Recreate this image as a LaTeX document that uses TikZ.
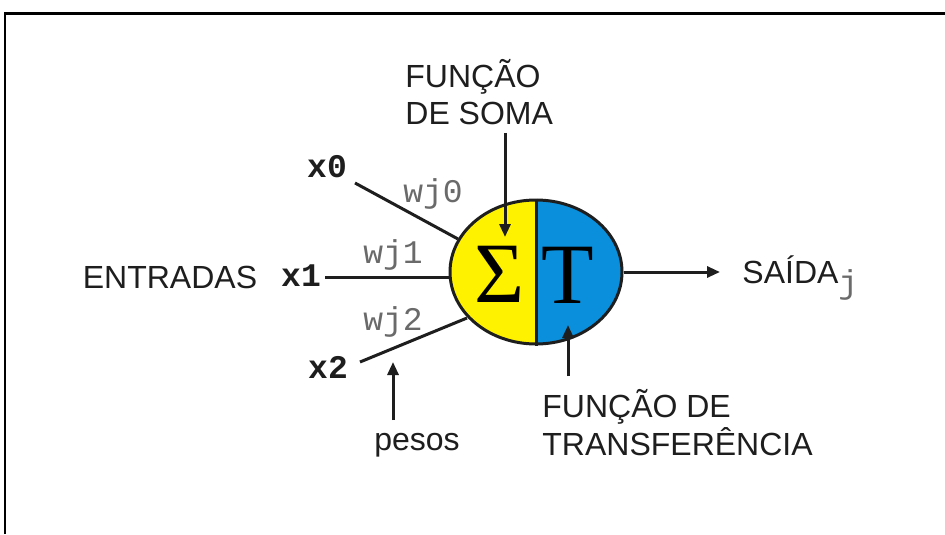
\documentclass[tikz,border=0pt]{standalone}
\usepackage{fontspec}
\setmainfont{Liberation Sans}
\newfontfamily\monof{Liberation Mono}
\newfontfamily\seriff{Liberation Serif}
\usetikzlibrary{arrows.meta,shapes.geometric}
\definecolor{yel}{HTML}{FFF200}
\definecolor{blu}{HTML}{0A8FDC}
\definecolor{txt}{HTML}{1E1E1E}
\definecolor{wgray}{HTML}{6A6A6A}
\begin{document}
\begin{tikzpicture}[x=0.5pt,y=-0.5pt,
  lbl/.style={inner sep=0pt,text=txt,font=\fontsize{16}{18.5}\selectfont},
  xin/.style={inner sep=0pt,text=txt,font=\monof\bfseries\fontsize{16.5}{18}\selectfont,anchor=base},
  wlbl/.style={inner sep=0pt,text=wgray,font=\monof\fontsize{16.5}{18}\selectfont,anchor=base},
  wire/.style={line width=1.5pt,draw=txt},
  arr/.style={line width=1.5pt,draw=txt,-{Triangle[length=6.5pt,width=5.5pt]}},
  big/.style={inner sep=0pt,text=black,font=\seriff\fontsize{43}{45}\selectfont}]
\useasboundingbox (0,0) rectangle (945,534);
\fill[white] (0,0) rectangle (945,534);
% frame
\draw[line width=1.4pt,black] (5,534) -- (5,13.5) -- (945,13.5);
% neuron halves
\begin{scope}
  \clip (536,272) ellipse [x radius=86, y radius=72];
  \fill[yel] (440,190) rectangle (536,350);
  \fill[blu] (536,190) rectangle (630,350);
\end{scope}
\node[ellipse,draw=txt,line width=1.5pt,minimum width=86pt,minimum height=72pt,inner sep=0pt] (neuron) at (536,272) {};
\draw[wire] (neuron.north) -- (neuron.south);
\node[big] (sigma) at (500,274.5) {Σ};
\node[big] (tee) at (568,275) {T};
% inputs
\node[xin] (x0) at (327,177) {x0};
\node[xin] (x1) at (301,286) {x1};
\node[xin] (x2) at (328,378) {x2};
\node[lbl,anchor=base] (entradas) at (170,288) {ENTRADAS};
\coordinate (x0s) at (355,183);
\coordinate (x0e) at (458,239);
\coordinate (x1s) at (325,277);
\coordinate (x1e) at (450,277);
\coordinate (x2s) at (360,362);
\coordinate (x2e) at (467,318);
\draw[wire] (x0s) -- (x0e);
\draw[wire] (x1s) -- (x1e);
\draw[wire] (x2s) -- (x2e);
\node[wlbl] (w0) at (433,202) {wj0};
\node[wlbl] (w1) at (393,263) {wj1};
\node[wlbl] (w2) at (393,330) {wj2};
% soma label
\node[lbl,anchor=base west] (soma1) at (405,88) {FUNÇÃO};
\node[lbl,anchor=base west] (soma2) at (405,125) {DE SOMA};
\coordinate (somaS) at (505,133);
\coordinate (somaE) at (505,237);
\draw[arr] (somaS) -- (somaE);
% transfer label
\node[lbl,anchor=base west] (tr1) at (542,417) {FUNÇÃO DE};
\node[lbl,anchor=base west] (tr2) at (542,455) {TRANSFERÊNCIA};
\coordinate (trS) at (568,376);
\coordinate (trE) at (568,325);
\draw[arr] (trS) -- (trE);
% pesos
\node[lbl,anchor=base] (pesos) at (417,450) {pesos};
\coordinate (pS) at (393,420);
\coordinate (pE) at (393,362);
\draw[arr] (pS) -- (pE);
% output
\node[lbl,anchor=base west] (saida) at (742,283) {SAÍDA\raisebox{-5pt}{\monof\fontsize{16.5}{18}\selectfont\color{wgray}j}};
\coordinate (outE) at (720,272);
\draw[arr] (neuron.east |- outE) -- (outE);
\end{tikzpicture}
\end{document}
